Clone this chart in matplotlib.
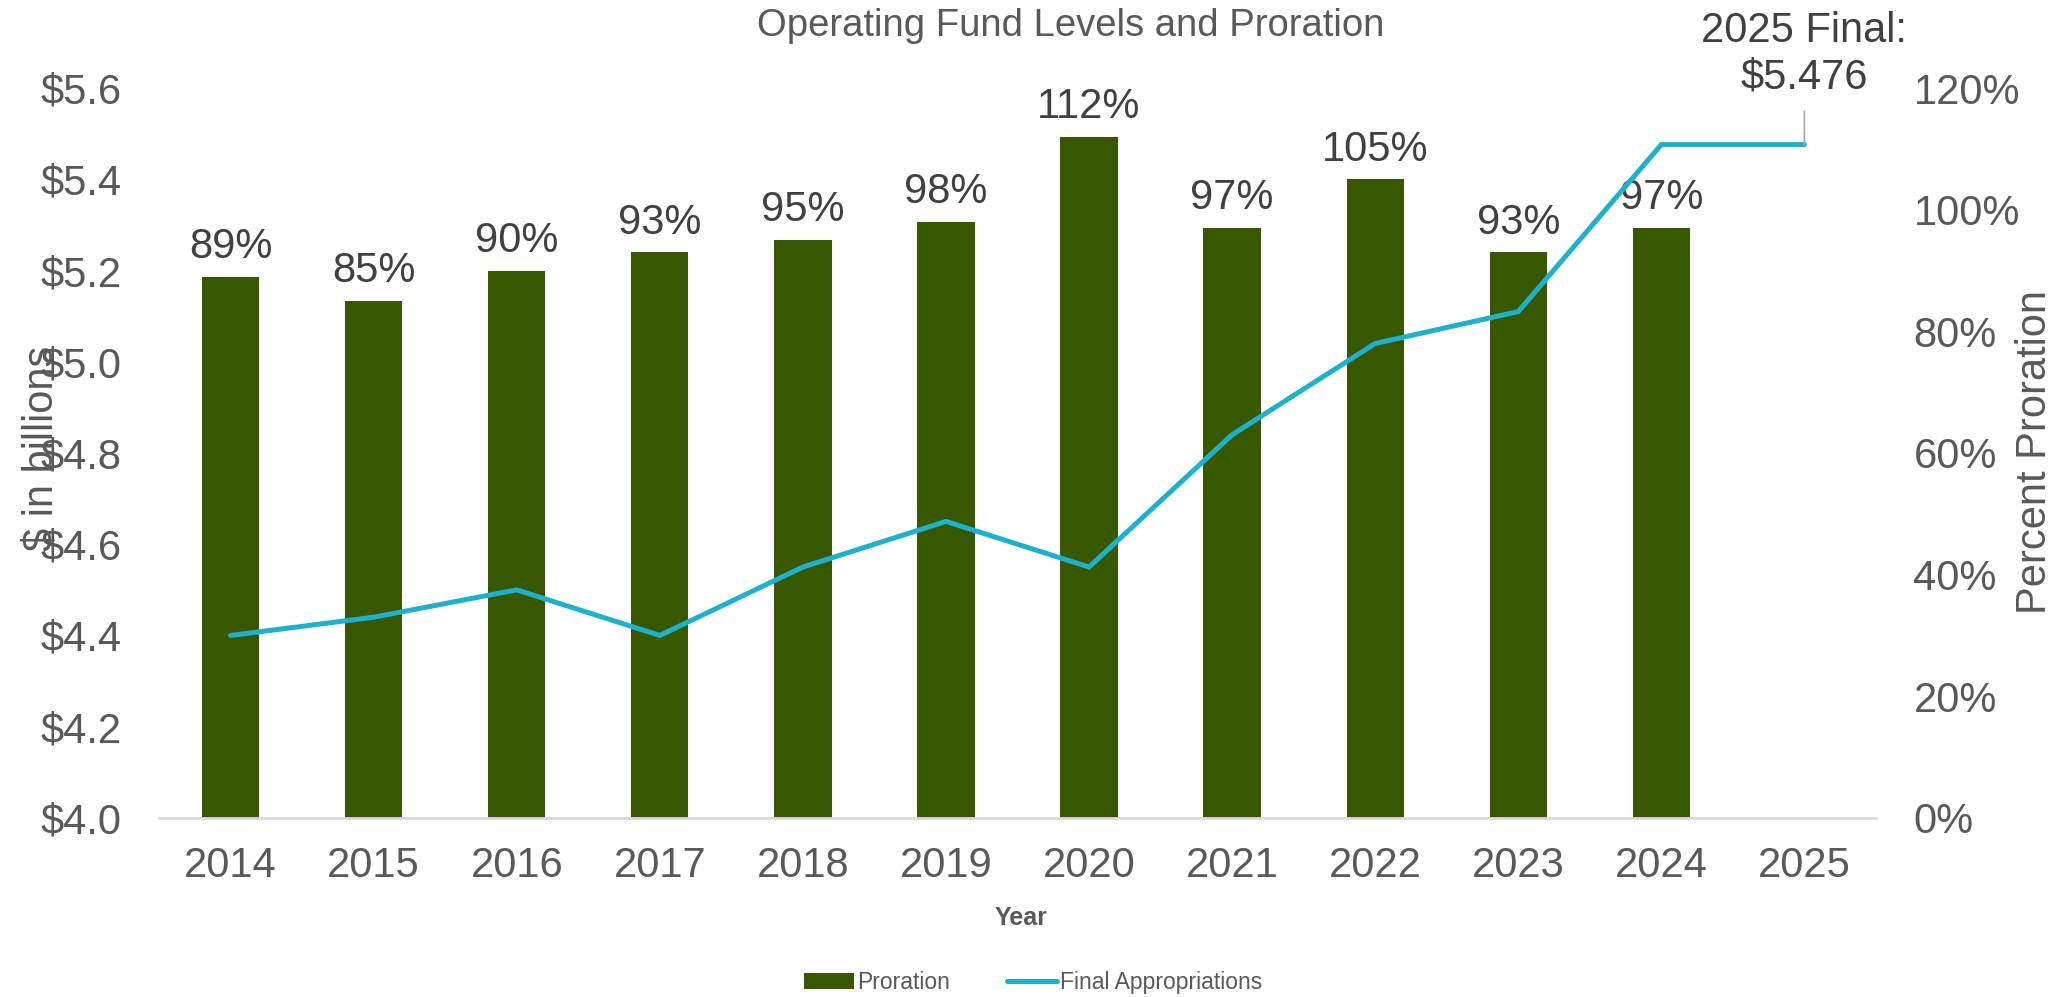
import matplotlib
matplotlib.use('Agg')
import matplotlib.pyplot as plt
import numpy as np

plt.rcParams['font.family'] = ['Liberation Sans', 'DejaVu Sans']

#data
years = ['2014', '2015', '2016', '2017', '2018', '2019', '2020', '2021', '2022', '2023', '2024', '2025']
proration = [89, 85, 90, 93, 95, 98, 112, 97, 105, 93, 97, None]
appropriations = [4.40, 4.44, 4.50, 4.40, 4.55, 4.65, 4.55, 4.84, 5.04, 5.11, 5.476, 5.476]
final_label = '2025 Final:\n$5.476'

barColor = '#385800'
lineColor = '#1DB1CE'
textGray = '#595959'
labelGray = '#404040'

x = np.arange(len(years))

fig = plt.figure(figsize=(20.66, 9.97), dpi=100)
ax = fig.add_axes([0.077, 0.1796, 0.831, 0.7321])
ax2 = ax.twinx()

#bars on the right (percent) axis
barX = [i for i, p in enumerate(proration) if p is not None]
barY = [p for p in proration if p is not None]
bars = ax2.bar(barX, barY, width=0.4, color=barColor, label='Proration')
for xi, yi in zip(barX, barY):
    ax2.annotate('%d%%' % yi, (xi, yi), xytext=(0, 7), textcoords='offset points',
                 ha='center', va='bottom', fontsize=30, color=labelGray)
ax2.set_ylim(0, 120)
ax2.set_yticks(np.arange(0, 121, 20))
ax2.set_yticklabels(['%d%%' % v for v in range(0, 121, 20)])

#line on the left ($) axis, drawn above the bars
line, = ax.plot(x, appropriations, color=lineColor, lw=3.6, label='Final Appropriations',
                solid_capstyle='round', solid_joinstyle='miter')
ax.set_zorder(ax2.get_zorder() + 1)
ax.patch.set_visible(False)
ax.set_ylim(4.0, 5.6)
ax.set_yticks(np.arange(4.0, 5.61, 0.2))
ax.set_yticklabels(['$%.1f' % v for v in np.arange(4.0, 5.61, 0.2)])
ax.set_xlim(-0.5, len(years) - 0.5)
ax.set_xticks(x)
ax.set_xticklabels(years)

ax.annotate(final_label, (x[-1], appropriations[-1]), xytext=(0, 34),
            textcoords='offset points', ha='center', va='bottom',
            fontsize=30, color=labelGray, linespacing=1.2,
            arrowprops=dict(arrowstyle='-', color='#A6A6A6', lw=1.2, shrinkA=8, shrinkB=0,
                            relpos=(0.5, 0)))

for a in (ax, ax2):
    for s in a.spines.values():
        s.set_visible(False)
    a.tick_params(length=0, labelsize=30, labelcolor=textGray)
ax.spines['bottom'].set_visible(True)
ax.spines['bottom'].set_color('#D9D9D9')
ax.spines['bottom'].set_linewidth(2)
ax.tick_params(axis='x', pad=20)
ax.tick_params(axis='y', pad=27)
ax2.tick_params(axis='y', pad=27)

fig.text(0.518, 0.974, 'Operating Fund Levels and Proration', ha='center', va='center',
         fontsize=27.5, color=textGray)
fig.text(0.020, 0.55, '$ in billions', rotation=90, ha='center', va='center',
         fontsize=30, color=textGray)
fig.text(0.985, 0.547, 'Percent Proration', rotation=90, ha='center', va='center',
         fontsize=30, color=textGray)
fig.text(0.494, 0.079, 'Year', ha='center', va='center', fontsize=18,
         fontweight='bold', color=textGray)

fig.legend([bars, line], ['Proration', 'Final Appropriations'], loc='center',
           bbox_to_anchor=(0.50, 0.015), ncol=2, frameon=False, fontsize=16.5,
           labelcolor=textGray, handlelength=2.2, handletextpad=0.1, columnspacing=2.5)

fig.savefig('out.png', dpi=100)
